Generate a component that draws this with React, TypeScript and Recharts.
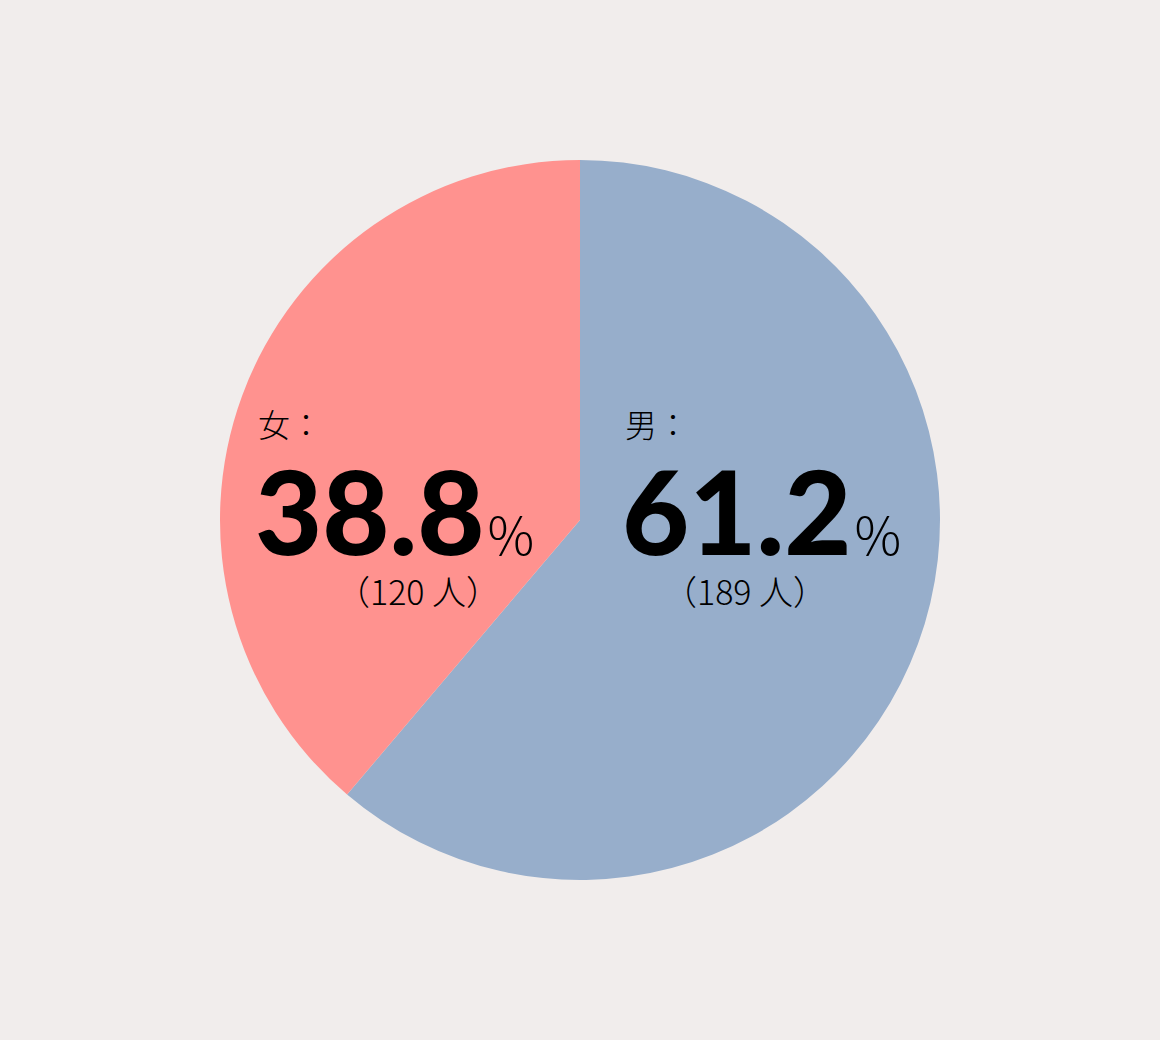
import { Cell, Pie, PieChart } from 'recharts'

const genders = ['男', '女']
const counts = [189, 120]
const shares = [61.2, 38.8]
const colors = ['#97aecb', '#ff928f']

const data = genders.map((name, i) => ({ name, value: shares[i], count: counts[i] }))

// label block placement relative to the pie centre
const labelOffsets = [
  { start: 42, sub: 165 },
  { start: -325, sub: -162 }
]

const cjk = '"Noto Sans CJK JP", "Noto Sans CJK TC", sans-serif'
const digits = 'Lato, "Noto Sans", sans-serif'

function renderLabel(props: any) {
  const { cx, cy, index } = props
  const d = data[index]
  const off = labelOffsets[index]
  const x = cx + off.start
  return (
    <g fill="#000">
      <text x={x + 3} y={cy - 83} fontSize={32} fontWeight={300} fontFamily={cjk}>
        {d.name + '：'}
      </text>
      <text x={x} y={cy + 35} fontSize={116} fontWeight={900} fontFamily={digits}>
        {d.value.toFixed(1)}
        <tspan fontSize={52} fontWeight={300} dx={3} fontFamily={cjk}>
          %
        </tspan>
      </text>
      <text x={cx + off.sub} y={cy + 85} fontSize={34} fontWeight={300} textAnchor="middle" fontFamily={cjk}>
        {'（' + d.count + ' 人）'}
      </text>
    </g>
  )
}

export default function App() {
  return (
    <div style={{ position: 'absolute', left: 0, top: 0, width: 1160, height: 1040, background: '#f1edec' }}>
      <PieChart width={1160} height={1040} margin={{ top: 0, right: 0, bottom: 0, left: 0 }}>
        <Pie
          data={data}
          dataKey="value"
          nameKey="name"
          cx={580}
          cy={520}
          outerRadius={360}
          startAngle={90}
          endAngle={-270}
          stroke="none"
          label={renderLabel}
          labelLine={false}
          isAnimationActive={false}
        >
          {data.map((d, i) => (
            <Cell key={d.name} fill={colors[i]} />
          ))}
        </Pie>
      </PieChart>
    </div>
  )
}
